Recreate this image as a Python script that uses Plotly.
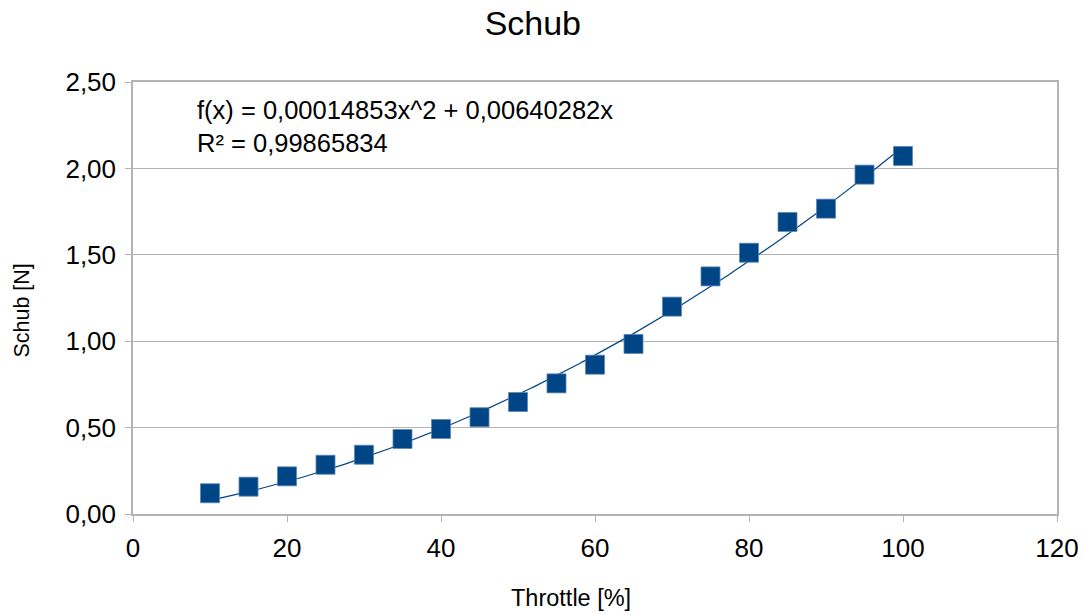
import numpy as np
import plotly.graph_objects as go

# Measured thrust versus throttle setting
throttle = [10, 15, 20, 25, 30, 35, 40, 45, 50, 55, 60, 65, 70, 75, 80, 85, 90, 95, 100]
schub = [0.120, 0.158, 0.218, 0.285, 0.343, 0.434, 0.492, 0.560, 0.648, 0.756,
         0.864, 0.984, 1.200, 1.375, 1.512, 1.690, 1.767, 1.964, 2.072]

# Quadratic trend line (through origin) and its goodness of fit
coef_a = 0.00014853
coef_b = 0.00640282
r_squared = 0.99865834

x_tick_vals = [0, 20, 40, 60, 80, 100, 120]
y_tick_vals = [0.0, 0.5, 1.0, 1.5, 2.0, 2.5]

FONT = "Liberation Sans, Arial, sans-serif"
BLUE = "#004586"
GRID = "#b3b3b3"

x_fit = np.linspace(min(throttle), max(throttle), 200)
y_fit = coef_a * x_fit ** 2 + coef_b * x_fit

fig = go.Figure()
fig.add_trace(go.Scatter(
    x=x_fit, y=y_fit, mode="lines",
    line=dict(color=BLUE, width=1.2), hoverinfo="skip", showlegend=False,
))
fig.add_trace(go.Scatter(
    x=throttle, y=schub, mode="markers",
    marker=dict(symbol="square", size=19, color=BLUE,
                line=dict(width=0.8, color="#5c86b3")),
    showlegend=False,
))

def fmt(v):
    return f"{v:.8f}".rstrip("0").replace(".", ",")

eq_text = (f"f(x) = {fmt(coef_a)}x^2 + {fmt(coef_b)}x<br>"
           f"R² = {fmt(r_squared)}")

fig.add_annotation(
    text=eq_text, xref="paper", yref="paper", x=0.067, y=0.972,
    xanchor="left", yanchor="top", align="left", showarrow=False,
    font=dict(family=FONT, size=25.5, color="black"),
)

# Axis titles, placed as free text
fig.add_annotation(
    text="Throttle [%]", xref="paper", yref="paper", x=0.474, y=-0.194,
    xanchor="center", yanchor="middle", showarrow=False,
    font=dict(family=FONT, size=23.5, color="black"),
)
fig.add_annotation(
    text="Schub [N]", xref="paper", yref="paper", x=-0.1196, y=0.472,
    xanchor="center", yanchor="middle", textangle=-90, showarrow=False,
    font=dict(family=FONT, size=21.5, color="black"),
)

fig.update_layout(
    width=1083, height=615,
    margin=dict(l=133, r=26, t=82, b=101),
    paper_bgcolor="white", plot_bgcolor="white",
    separators=",.",
    font=dict(family=FONT, color="black"),
    title=dict(text="Schub", x=0.492, xanchor="center", xref="container",
               y=0.962, yanchor="middle",
               font=dict(family=FONT, size=34, color="black")),
    showlegend=False,
)

fig.update_xaxes(
    range=[0, 120], tickvals=x_tick_vals, ticks="outside", ticklen=6,
    tickcolor=GRID, showline=True, linecolor=GRID, linewidth=1.5, mirror=True,
    showgrid=False, zeroline=False, ticklabelstandoff=4, automargin=False,
    tickfont=dict(family=FONT, size=26, color="black"),
)
fig.update_yaxes(
    range=[0, 2.5], tickvals=y_tick_vals, tickformat=".2f", ticks="outside",
    ticklen=6, tickcolor=GRID, showline=True, linecolor=GRID, linewidth=1.5,
    mirror=True, showgrid=True, gridcolor=GRID, gridwidth=1.2, zeroline=False,
    ticklabelstandoff=4, automargin=False,
    tickfont=dict(family=FONT, size=26, color="black"),
)

fig.write_html("out.html")
